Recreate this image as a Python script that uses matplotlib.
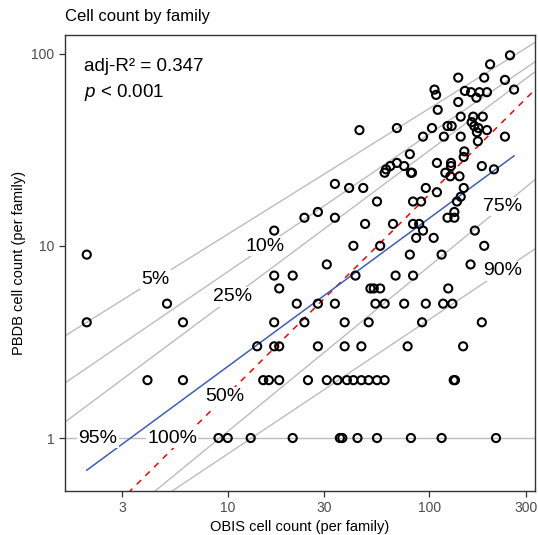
import matplotlib
matplotlib.use("Agg")
import matplotlib.pyplot as plt
import numpy as np

plt.rcParams['font.family'] = ['Liberation Sans', 'DejaVu Sans']
plt.rcParams['mathtext.fontset'] = 'custom'
plt.rcParams['mathtext.rm'] = 'Liberation Sans'
plt.rcParams['mathtext.it'] = 'Liberation Sans:italic'

# cell counts per family
obis = [9, 10, 13, 21, 36, 37, 44, 55, 81, 115, 214,
        4, 6, 15, 16, 18, 25, 31, 35, 39, 42, 46, 50, 55, 60, 132, 134,
        14, 17, 18, 28, 38, 46, 78, 147,
        2, 6, 17, 24, 38, 50, 92, 182,
        5, 22, 28, 34, 54, 60, 75, 96, 117, 130,
        18, 51, 53, 57, 124,
        17, 21, 43, 68, 83,
        31, 160,
        2, 80, 115,
        42, 57, 187,
        86, 105,
        17, 93, 168,
        48, 66, 83, 89,
        24, 34, 123, 133,
        28, 133,
        55, 83, 91, 137,
        143, 109,
        40, 47, 96, 148,
        34,
        81, 82, 60, 61, 120, 127, 141,
        64, 75, 128, 182, 209,
        69, 109, 128,
        148, 80, 149,
        174,
        93, 118, 143, 237,
        172,
        45, 69, 103, 193,
        175,
        123, 129, 167,
        162,
        143, 165, 184,
        110, 139, 171, 108,
        161, 177, 193, 150,
        106, 263, 237,
        139, 187, 200, 251]
pbdb = [1, 1, 1, 1, 1, 1, 1, 1, 1, 1, 1,
        2, 2, 2, 2, 2, 2, 2, 2, 2, 2, 2, 2, 2, 2, 2, 2,
        3, 3, 3, 3, 3, 3, 3, 3,
        4, 4, 4, 4, 4, 4, 4, 4,
        5, 5, 5, 5, 5, 5, 5, 5, 5, 5,
        6, 6, 6, 6, 6,
        7, 7, 7, 7, 7,
        8, 8,
        9, 9, 9,
        10, 10, 10,
        11, 11,
        12, 12, 12,
        13, 13, 13, 13,
        14, 14, 14, 14,
        15, 15,
        17, 17, 17, 17,
        18, 19,
        20, 20, 20, 20,
        21,
        24, 24, 24, 25, 24, 23, 23,
        26, 26, 26, 26, 25,
        27, 27, 27,
        29, 30, 31,
        35,
        37, 37, 37, 37,
        39,
        40, 41, 41, 40,
        41,
        42, 42, 42,
        44,
        47, 47, 47,
        51, 56, 59, 61,
        63, 63, 63, 64,
        65, 65, 73,
        75, 75, 88, 98]

# log-log regression line
fit_intercept = -0.400
fit_slope = 0.772

# reference percentage lines (log10 y = a + b log10 x)
ref_labels = ["5%", "10%", "25%", "50%", "75%", "90%"]
ref_intercepts = [0.405, 0.148, -0.068, -0.812, -0.826, -0.783]
ref_slopes = [0.655, 0.717, 0.782, 1.04, 0.86, 0.70]
ref_label_x = [4.4, 15.3, 10.6, 9.7, 230, 230]
flat_labels = ["95%", "100%"]
flat_label_x = [2.27, 5.3]

fig = plt.figure(figsize=(5.38, 5.35), dpi=100)
ax = fig.add_axes([65/538, 44/535, 470/538, 456/535])
ax.set_xscale('log')
ax.set_yscale('log')
xlim = (1.56, 334)
ylim = (0.53, 125)
ax.set_xlim(xlim)
ax.set_ylim(ylim)

xx = np.logspace(np.log10(xlim[0]), np.log10(xlim[1]), 100)
for lab, a, b, lx in zip(ref_labels, ref_intercepts, ref_slopes, ref_label_x):
    yy = 10 ** (a + b * np.log10(xx))
    if lab == "50%":
        ax.plot(xx, yy, color='red', lw=1.1, ls=(0, (4, 4)), zorder=2)
    else:
        ax.plot(xx, yy, color='#bdbdbd', lw=1.0, zorder=1)
    ly = 10 ** (a + b * np.log10(lx))
    ax.text(lx, ly, lab, fontsize=14, ha='center', va='center', zorder=3,
            bbox=dict(facecolor='white', edgecolor='none', pad=1.0))

ax.axhline(1, color='#bdbdbd', lw=1.0, zorder=1)
for lab, lx in zip(flat_labels, flat_label_x):
    ax.text(lx, 1, lab, fontsize=14, ha='center', va='center', zorder=3,
            bbox=dict(facecolor='white', edgecolor='none', pad=1.0))

fx = np.logspace(np.log10(min(obis)), np.log10(max(obis)), 50)
ax.plot(fx, 10 ** (fit_intercept + fit_slope * np.log10(fx)), color='#3e5fb8', lw=1.1, zorder=2)

ax.scatter(obis, pbdb, s=34, facecolors='none', edgecolors='black', linewidths=1.5, zorder=4)

ax.set_xticks([3, 10, 30, 100, 300])
ax.set_xticklabels(["3", "10", "30", "100", "300"])
ax.set_yticks([1, 10, 100])
ax.set_yticklabels(["1", "10", "100"])
ax.minorticks_off()
ax.tick_params(axis='both', colors='#333333', labelcolor='#4d4d4d', labelsize=10, length=4, width=0.9)
for sp in ax.spines.values():
    sp.set_color('#333333')
    sp.set_linewidth(1.0)

ax.set_xlabel("OBIS cell count (per family)", fontsize=10.5, labelpad=3)
ax.set_ylabel("PBDB cell count (per family)", fontsize=10.5, labelpad=4)
fig.text(65/538, 1 - 17/535, "Cell count by family", fontsize=12, ha='left', va='center')

ax.text(0.04, 0.95, "adj-R² = 0.347", transform=ax.transAxes, fontsize=13.5, ha='left', va='top')
ax.text(0.04, 0.898, "$p$ < 0.001", transform=ax.transAxes, fontsize=13.5, ha='left', va='top')

fig.savefig("out.png", dpi=100)
